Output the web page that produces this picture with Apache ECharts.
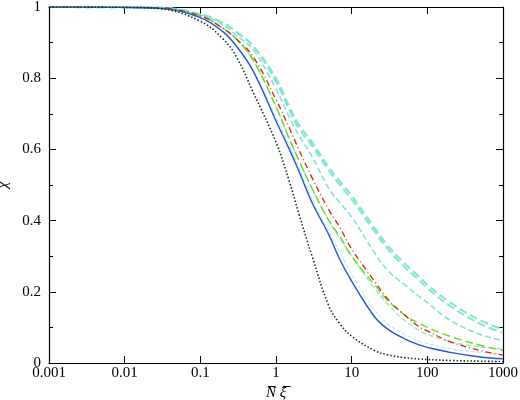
<!DOCTYPE html>
<html><head><meta charset="utf-8">
<script src="https://cdn.jsdelivr.net/npm/echarts@6/dist/echarts.min.js"></script>
<style>html,body{margin:0;padding:0;background:#fff}#c{width:520px;height:400px}</style>
</head><body><div id="c"></div>
<script>
// x positions where curves were read
var xs = [0.001, 0.01, 0.03, 0.1, 0.2, 0.3, 0.5, 1, 1.5, 2, 3, 5, 7, 10, 20, 30, 50, 80, 100, 200, 500, 1000];
var yTicks = [0, 0.2, 0.4, 0.6, 0.8, 1];
var blackDot  = [1, 0.999, 0.995, 0.96, 0.91, 0.86, 0.76, 0.62, 0.51, 0.42, 0.3, 0.16, 0.11, 0.075, 0.035, 0.023, 0.015, 0.011, 0.01, 0.007, 0.005, 0.004];
var blueSolid = [1, 0.999, 0.996, 0.97, 0.93, 0.89, 0.82, 0.68, 0.6, 0.54, 0.45, 0.36, 0.29, 0.23, 0.13, 0.095, 0.068, 0.05, 0.044, 0.03, 0.017, 0.012];
var redDash   = [1, 0.999, 0.997, 0.975, 0.94, 0.91, 0.86, 0.74, 0.66, 0.6, 0.52, 0.43, 0.38, 0.32, 0.23, 0.18, 0.135, 0.1, 0.09, 0.06, 0.035, 0.022];
var greenDash = [1, 0.999, 0.997, 0.975, 0.94, 0.91, 0.85, 0.72, 0.63, 0.57, 0.49, 0.4, 0.355, 0.3, 0.22, 0.175, 0.135, 0.11, 0.1, 0.075, 0.05, 0.035];
var cyanTop   = [1, 0.999, 0.998, 0.98, 0.955, 0.93, 0.89, 0.8, 0.72, 0.67, 0.62, 0.55, 0.51, 0.47, 0.38, 0.33, 0.28, 0.24, 0.22, 0.17, 0.12, 0.095];
var cyanTop2  = [1, 0.999, 0.998, 0.98, 0.955, 0.93, 0.89, 0.79, 0.71, 0.66, 0.61, 0.54, 0.5, 0.46, 0.37, 0.32, 0.27, 0.23, 0.21, 0.16, 0.11, 0.085];
var cyanMid   = [1, 0.999, 0.998, 0.978, 0.95, 0.92, 0.88, 0.77, 0.69, 0.64, 0.58, 0.49, 0.45, 0.41, 0.31, 0.26, 0.22, 0.185, 0.17, 0.12, 0.08, 0.063];
var cyanLow   = [1, 0.999, 0.997, 0.975, 0.94, 0.91, 0.85, 0.72, 0.63, 0.57, 0.49, 0.4, 0.35, 0.3, 0.21, 0.165, 0.12, 0.09, 0.08, 0.06, 0.045, 0.04];
var cyanPale  = [1, 0.999, 0.996, 0.97, 0.93, 0.89, 0.82, 0.69, 0.61, 0.55, 0.46, 0.37, 0.31, 0.25, 0.15, 0.11, 0.08, 0.06, 0.055, 0.04, 0.03, 0.025];

function pts(ys){ return xs.map(function(x,i){ return [x, ys[i]]; }); }
function line(name, ys, color, type, width){
	return {name:name, type:'line', data:pts(ys), smooth:0.4, showSymbol:false, symbol:'none',
		lineStyle:{color:color, type:type, width:width||1.3}};
}
var font = 'Liberation Serif';
var chart = echarts.init(document.getElementById('c'));
var axisBase = {
	axisLine:{show:true, onZero:false, lineStyle:{color:'#000', width:1.2}},
	axisTick:{show:true, inside:true, length:7, lineStyle:{color:'#000'}},
	splitLine:{show:false}
};
chart.setOption({
	animation:false,
	grid:{left:49, right:17, top:7, bottom:37, containLabel:false, outerBoundsMode:'none'},
	xAxis:[
		Object.assign({type:'log', logBase:10, min:0.001, max:1000, position:'bottom',
			name:'N\u0305 \u03BE\u0305', nameLocation:'middle', nameGap:22,
			nameTextStyle:{fontFamily:font, fontStyle:'italic', fontSize:15, color:'#000'},
			axisLabel:{fontFamily:font, fontSize:15, color:'#000', margin:3,
				formatter:function(v){ return String(+v.toPrecision(3)); }},
			minorTick:{show:false}}, axisBase),
		Object.assign({type:'log', logBase:10, min:0.001, max:1000, position:'top', axisLabel:{show:false}}, axisBase)
	],
	yAxis:[
		Object.assign({type:'value', min:0, max:1, interval:0.2, position:'left',
			name:'\u03C7', nameLocation:'middle', nameGap:38, nameRotate:90,
			nameTextStyle:{fontFamily:font, fontStyle:'italic', fontSize:15, color:'#000'},
			axisLabel:{fontFamily:font, fontSize:15, color:'#000', margin:8,
				formatter:function(v){ return yTicks.indexOf(v) >= 0 ? String(v) : ''; }},
			minorTick:{show:true, splitNumber:2, length:4, lineStyle:{color:'#000'}}}, axisBase),
		Object.assign({type:'value', min:0, max:1, interval:0.2, position:'right', axisLabel:{show:false},
			minorTick:{show:true, splitNumber:2, length:4, lineStyle:{color:'#000'}}}, axisBase)
	],
	series:[
		line('cyanPale', cyanPale, '#aee8f0', 'dashed', 1),
		line('cyanLow', cyanLow, '#8fe6d8', 'dashed', 1.3),
		line('cyanMid', cyanMid, '#7fe3d0', 'dashed', 1.5),
		line('cyanTop2', cyanTop2, '#80e5d2', 'dashed', 2),
		line('cyanTop', cyanTop, '#80e5d2', 'dashed', 2),
		line('greenDash', greenDash, '#66dd22', [8,4], 1.4),
		line('redDash', redDash, '#dd2200', [6,3,1,3], 1.3),
		line('blueSolid', blueSolid, '#2255dd', 'solid', 1.4),
		line('blackDot', blackDot, '#0a3320', [1.5,2], 1.6)
	]
});
</script></body></html>
